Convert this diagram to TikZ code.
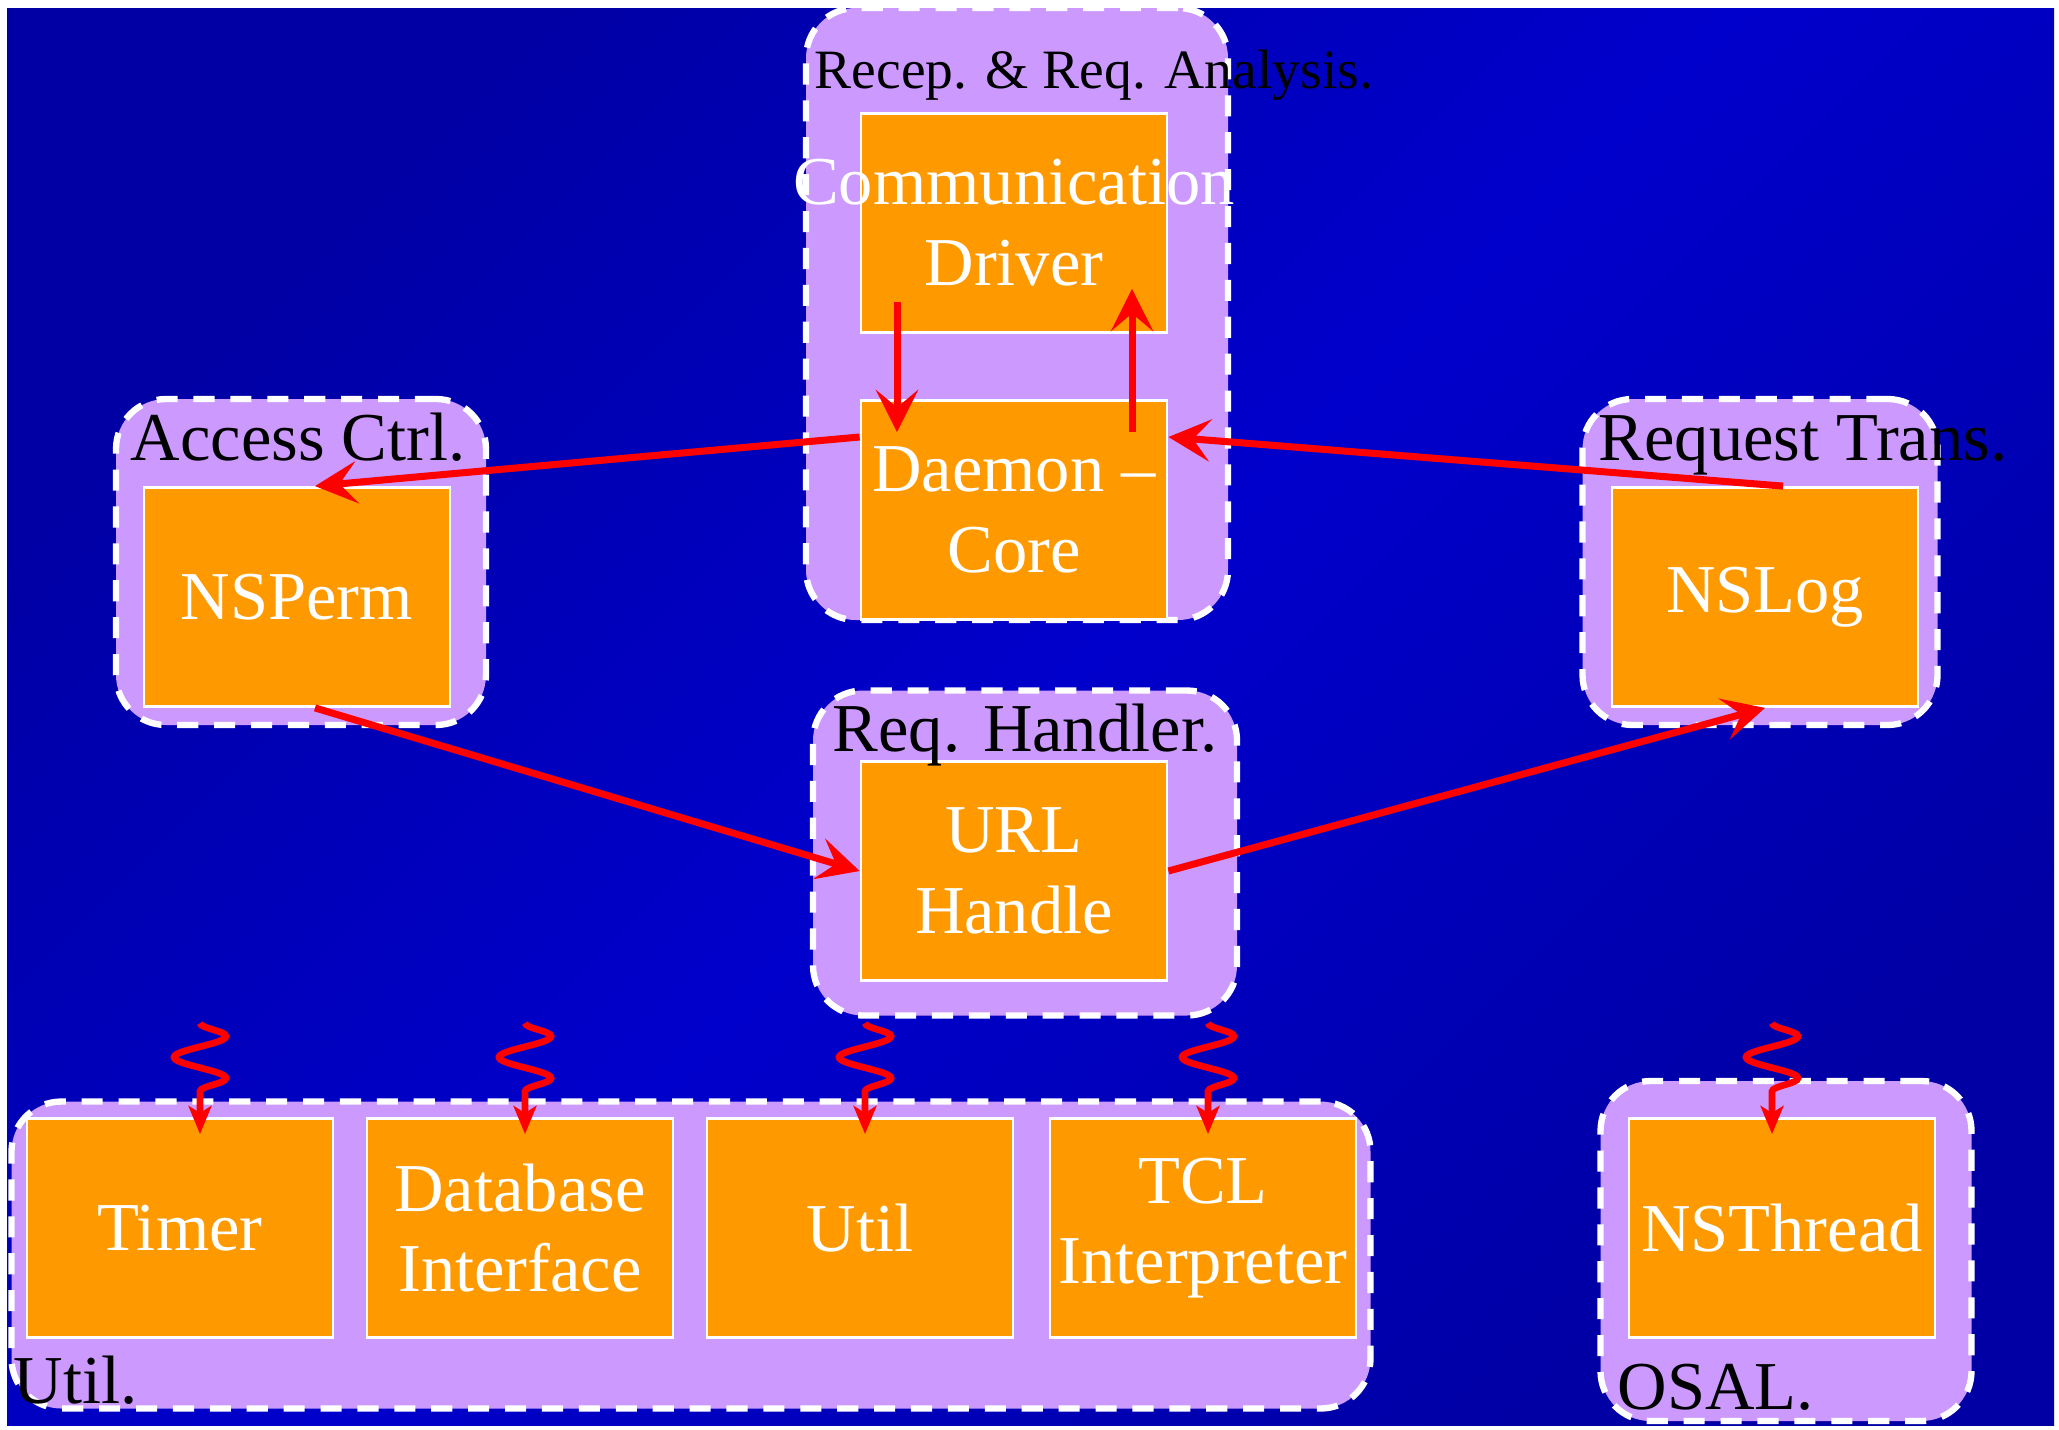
\documentclass[tikz,border=0pt]{standalone}
\usepackage{fontspec}
\setmainfont{Liberation Serif}
\usepackage{xcolor}
\usepackage{tikz}
\usetikzlibrary{calc,arrows.meta,decorations.pathmorphing}
\definecolor{bgdark}{HTML}{0000A4}
\definecolor{bgbright}{HTML}{0000CC}
\definecolor{grpfill}{HTML}{CC99FF}
\definecolor{modfill}{HTML}{FF9900}
\tikzstyle{centered} = [align=center, text centered]
\tikzstyle{module} = [centered, rectangle, draw=white, line width=0.8pt, fill=modfill, text=white, minimum width=3.06cm, minimum height=2.19cm, inner sep=1pt, font=\fontsize{19.5}{23}\selectfont]
\tikzset{
  % group styles
  group/.style={rectangle, rounded corners=0.5cm, fill=grpfill, draw=white, line width=1.8pt, dash pattern=on 6pt off 4.5pt},
  glabel/.style={anchor=base west, inner sep=0pt, text=black, font=\fontsize{19.5}{23}\selectfont},
  % edge styles
  flow/.style={draw=red, line width=2pt, -{Stealth[length=12pt,width=12pt,inset=5pt]}},
  wavy/.style={draw=red, line width=1.9pt, -{Stealth[length=8pt,width=6.5pt,inset=2pt]}, decorate, decoration={snake, amplitude=0.26cm, segment length=0.42cm, post length=0.22cm}},
}

\begin{document}
\begin{tikzpicture}
        \useasboundingbox (0,0) rectangle (20.59,-14.29);
        \shade[top color=bgdark, bottom color=bgdark, middle color=bgbright, shading angle=45] (0.07,-0.08) rectangle (20.54,-14.25);
        % groups
        \node(RecG)[group, minimum width=4.22cm, minimum height=6.12cm] at (10.17,-3.14) {};
        \node(AccG)[group, minimum width=3.70cm, minimum height=3.26cm] at (3.01,-5.62) {};
        \node(TransG)[group, minimum width=3.55cm, minimum height=3.26cm] at (17.60,-5.62) {};
        \node(HandG)[group, minimum width=4.24cm, minimum height=3.25cm] at (10.25,-8.53) {};
        \node(UtilG)[group, minimum width=13.59cm, minimum height=3.07cm] at (6.91,-12.55) {};
        \node(OsalG)[group, minimum width=3.71cm, minimum height=3.40cm] at (17.86,-12.51) {};
        % modules
        \node(CommDrv)[module] at (10.14,-2.23) {\makebox[2cm]{Communication}\\Driver};
        \node(Daemon)[module] at (10.14,-5.10) {Daemon --\\Core};
        \node(NSPerm)[module] at (2.97,-5.97) {NSPerm};
        \node(NSLog)[module] at (17.65,-5.97) {NSLog};
        \node(URLHdl)[module] at (10.14,-8.71) {URL\\Handle};
        \node(Timer)[module] at (1.80,-12.28) {Timer};
        \node(DBIf)[module] at (5.20,-12.28) {Database\\Interface};
        \node(Util)[module] at (8.60,-12.28) {Util};
        \node(TCLInt)[module] at (12.03,-12.28) {TCL\\Interpreter};
        \node(NSThread)[module] at (17.82,-12.28) {NSThread};
        % group labels
        \node(RecL)[glabel, font=\fontsize{15.8}{19}\selectfont] at (8.14,-0.88) {Recep. \& Req. Analysis.};
        \node(AccL)[glabel] at (1.30,-4.60) {Access Ctrl.};
        \node(TransL)[glabel] at (15.98,-4.60) {Request Trans.};
        \node(HandL)[glabel] at (8.32,-7.51) {Req. Handler.};
        \node(UtilL)[glabel] at (0.13,-14.03) {Util.};
        \node(OsalL)[glabel] at (16.17,-14.09) {OSAL.};
        % request flow
        \draw[flow] ($(CommDrv.south)+(-1.17,0.32)$) -- ($(Daemon.north)+(-1.17,-0.33)$);
        \draw[flow] ($(Daemon.north)+(1.18,-0.33)$) -- ($(CommDrv.south)+(1.18,0.45)$);
        \draw[flow] ($(Daemon.west)+(0,0.73)$) -- ($(NSPerm.north)+(0.18,0)$);
        \draw[flow] ($(NSLog.north)+(0.18,0)$) -- ($(Daemon.east)+(0,0.73)$);
        \draw[flow] ($(NSPerm.south)+(0.18,0)$) -- (URLHdl.west);
        \draw[flow] (URLHdl.east) -- (NSLog.south);
        % calls into the lower layers
        \foreach \m/\dx in {Timer/0.2, DBIf/0.05, Util/0.05, TCLInt/0.05, NSThread/-0.1}
            \draw[wavy] ($(\m.north)+(\dx,0.94)$) -- ($(\m.north)+(\dx,-0.17)$);
\end{tikzpicture}
\end{document}
